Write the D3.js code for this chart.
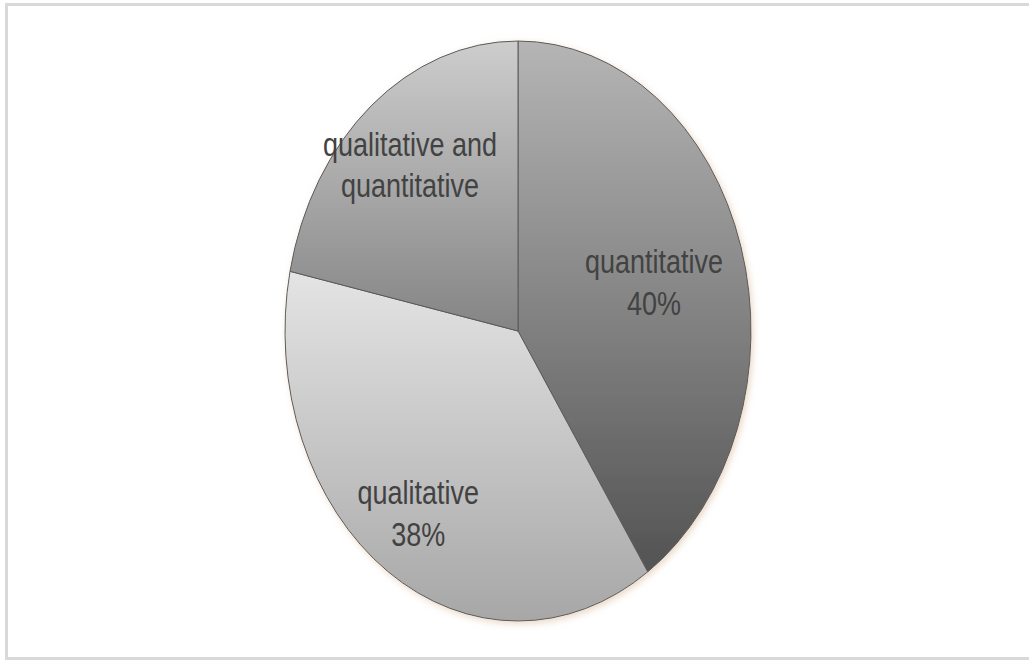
<!DOCTYPE html>
<html>
<head>
<meta charset="utf-8">
<script src="https://cdn.jsdelivr.net/npm/d3@7"></script>
<style>
  html, body { margin: 0; padding: 0; background: #ffffff; }
  svg { display: block; }
</style>
</head>
<body>
<div id="chart"></div>
<script>
// ---- data ----
const categories = ["quantitative", "qualitative", "qualitative and quantitative"];
const values = [40.6, 37.7, 21.7];
const labelLines = [["quantitative", "40%"], ["qualitative", "38%"], ["qualitative and", "quantitative"]];

// ---- layout / style ----
const W = 1029, H = 660;
const cx = 518, cy = 331, rx = 233, ry = 290;
const labelRadiusFactor = [0.61, 0.765, 0.735];
const labelNudgeY = [5, 1, 2];
const gradStops = [["#b5b5b5", "#535353"], ["#e4e4e4", "#a7a7a7"], ["#cdcdcd", "#848484"]];

const svg = d3.select("#chart").append("svg").attr("width", W).attr("height", H);

svg.append("rect")
  .attr("x", 6.5).attr("y", 4.5)
  .attr("width", W + 10).attr("height", 654)
  .attr("fill", "#ffffff")
  .attr("stroke", "#d9d9d9").attr("stroke-width", 3);

const defs = svg.append("defs");
const filt = defs.append("filter").attr("id", "shadow")
  .attr("x", "-10%").attr("y", "-10%").attr("width", "120%").attr("height", "120%");
filt.append("feDropShadow").attr("dx", 2).attr("dy", 2).attr("stdDeviation", 3)
  .attr("flood-color", "#d8b89a").attr("flood-opacity", 0.55);

categories.forEach((c, i) => {
  const g = defs.append("linearGradient").attr("id", "grad" + i)
    .attr("x1", 0).attr("y1", 0).attr("x2", 0).attr("y2", 1);
  g.append("stop").attr("offset", "0%").attr("stop-color", gradStops[i][0]);
  g.append("stop").attr("offset", "100%").attr("stop-color", gradStops[i][1]);
});

const data = categories.map((c, i) => ({ name: c, value: values[i], lines: labelLines[i], i }));

const pie = d3.pie().value(d => d.value).sort(null);
const arcs = pie(data);
const arc = d3.arc().innerRadius(0).outerRadius(rx);

const g = svg.append("g")
  .attr("transform", `translate(${cx},${cy}) scale(1,${ry / rx})`);

const sliceG = g.append("g").attr("filter", "url(#shadow)");
sliceG.selectAll("path.slice")
  .data(arcs)
  .join("path")
  .attr("class", "slice")
  .attr("d", arc)
  .attr("fill", d => `url(#grad${d.data.i})`)
  .attr("stroke", "#5a5a5a")
  .attr("stroke-width", 1)
  .attr("vector-effect", "non-scaling-stroke");

const fontSize = 27;
const lineGap = 42 * rx / ry;
const labels = g.selectAll("text.label")
  .data(arcs)
  .join("text")
  .attr("class", "label")
  .attr("text-anchor", "middle")
  .attr("font-family", "'Liberation Sans', Arial, sans-serif")
  .attr("font-size", fontSize)
  .attr("fill", "#424242")
  .attr("transform", d => {
    const la = d3.arc().innerRadius(0).outerRadius(2 * rx * labelRadiusFactor[d.data.i]);
    const [x, y] = la.centroid(d);
    return `translate(${x},${y + labelNudgeY[d.data.i] * rx / ry})`;
  });

labels.each(function(d) {
  const t = d3.select(this);
  const n = d.data.lines.length;
  d.data.lines.forEach((line, k) => {
    t.append("tspan")
      .attr("x", 0)
      .attr("y", (k - (n - 1) / 2) * lineGap + 9 * rx / ry)
      .text(line);
  });
});
</script>
</body>
</html>
